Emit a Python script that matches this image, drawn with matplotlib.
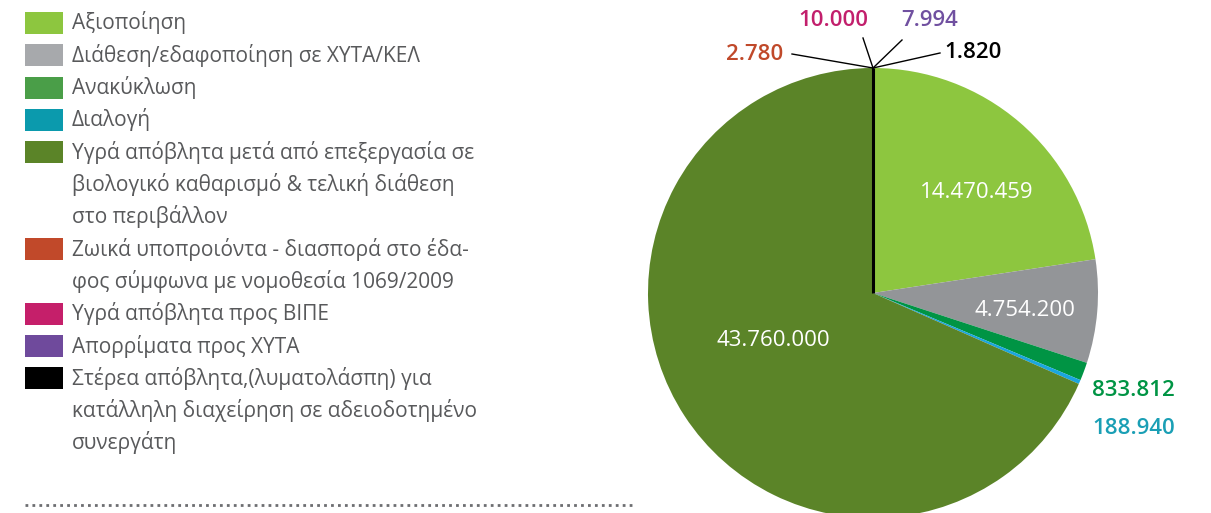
import numpy as np
import matplotlib
matplotlib.use('Agg')
import matplotlib.pyplot as plt
from matplotlib.patches import Rectangle

plt.rcParams['font.family'] = ['Open Sans', 'DejaVu Sans']

# data
labels = ['Αξιοποίηση',
          'Διάθεση/εδαφοποίηση σε ΧΥΤΑ/ΚΕΛ',
          'Ανακύκλωση',
          'Διαλογή',
          'Υγρά απόβλητα μετά από επεξεργασία σε\nβιολογικό καθαρισμό & τελική διάθεση\nστο περιβάλλον',
          'Ζωικά υποπροιόντα - διασπορά στο έδα-\nφος σύμφωνα με νομοθεσία 1069/2009',
          'Υγρά απόβλητα προς ΒΙΠΕ',
          'Απορρίματα προς ΧΥΤΑ',
          'Στέρεα απόβλητα,(λυματολάσπη) για\nκατάλληλη διαχείρηση σε αδειοδοτημένο\nσυνεργάτη']
values = [14470459, 4754200, 833812, 188940, 43760000, 2780, 10000, 7994, 1820]
value_text = ['14.470.459', '4.754.200', '833.812', '188.940', '43.760.000',
              '2.780', '10.000', '7.994', '1.820']
colors = ['#8dc63f', '#939598', '#009444', '#1ba6df', '#5b8428',
          '#c1492a', '#c51f6a', '#6f4a9c', '#000000']
legend_colors = ['#8dc63f', '#a7a9ac', '#4a9e48', '#0b9aad', '#5b8428',
                 '#c1492a', '#c51f6a', '#6f4a9c', '#000000']
label_colors = ['white', 'white', '#009444', '#1a9fb5', 'white',
                '#c0492a', '#c21f6c', '#7050a0', '#000000']

W, H = 1211, 513
fig = plt.figure(figsize=(W / 100, H / 100), dpi=100)
ax = fig.add_axes([0, 0, 1, 1])

cx, cy, R = 873, 220, 225
wedges, _ = ax.pie(values, colors=colors, startangle=90, counterclock=False,
                   center=(cx, cy), radius=R, frame=True,
                   wedgeprops=dict(linewidth=0))
ax.set_xlim(0, W)
ax.set_ylim(0, H)
ax.set_aspect('equal')
ax.axis('off')

# the tiny slices at the top are drawn as one thick black stroke
ax.plot([cx, cx], [cy, cy + R], color='black', lw=2.2, solid_capstyle='butt')

# inner labels
inner = {0: (977, 321), 1: (1025, 203), 4: (773, 173)}
for i, pos in inner.items():
    ax.text(pos[0], pos[1], value_text[i], color='white', fontsize=16,
            ha='center', va='center')

# outer labels at the right
ax.text(1092, 123, value_text[2], color=label_colors[2], fontsize=16,
        fontweight='semibold', ha='left', va='center')
ax.text(1092, 85, value_text[3], color=label_colors[3], fontsize=16,
        fontweight='semibold', ha='left', va='center')

# outer labels at the top with leader lines
tip = (cx, cy + R)
top_lab = {5: ((783, 458), 'right', (792, 459)),
           6: ((833, 492), 'center', (863, 475)),
           7: ((930, 492), 'center', (902, 473)),
           8: ((944, 460), 'left', (940, 460))}
for i, (pos, ha, end) in top_lab.items():
    ax.plot([tip[0], end[0]], [tip[1], end[1]], color='black', lw=1)
    ax.text(pos[0], pos[1], value_text[i], color=label_colors[i], fontsize=16,
            fontweight='semibold', ha=ha, va='center')

# legend
row_h = 32.3
row = 0
for lab, col in zip(labels, legend_colors):
    lines = lab.split('\n')
    y0 = H - (23 + row_h * row)
    ax.add_patch(Rectangle((25, y0 - 11), 38, 22, color=col, lw=0))
    for k, ln in enumerate(lines):
        ax.text(72, y0 - k * row_h, ln, color='#58595b', fontsize=15,
                ha='left', va='center')
    row += len(lines)

ax.plot([25, 632], [8, 8], color='#6d6e71', lw=2, linestyle=(0, (1, 1.5)))

fig.savefig('out.png', dpi=100)
